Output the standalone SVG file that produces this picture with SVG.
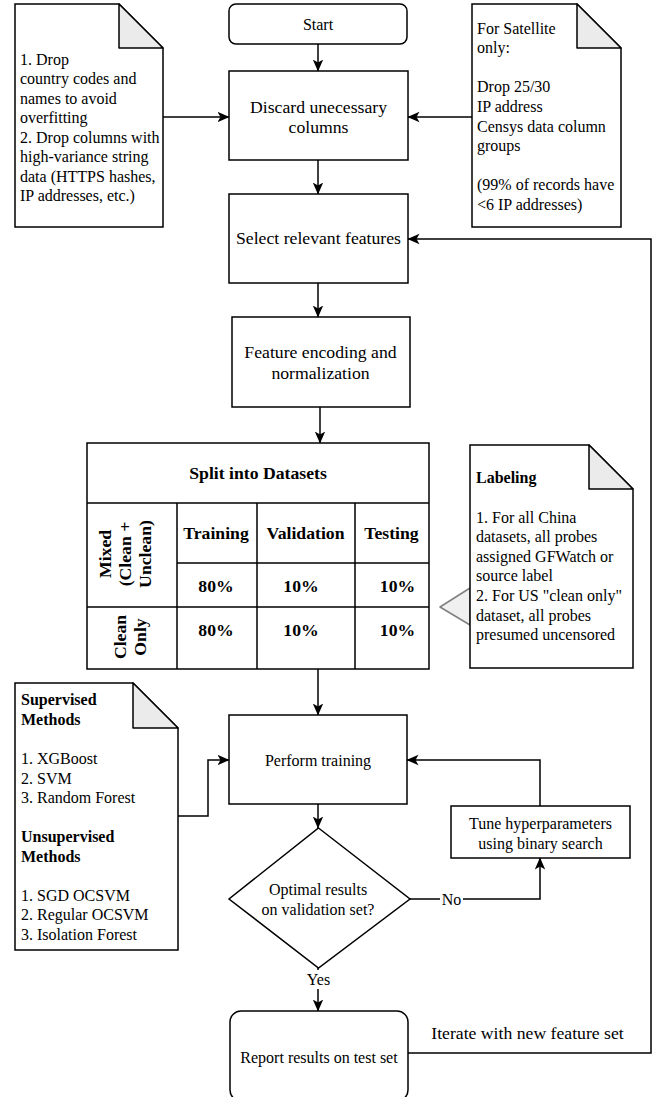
<svg xmlns="http://www.w3.org/2000/svg" width="652" height="1097" viewBox="0 0 652 1097">
<style>
text{font-family:"Liberation Serif","Times New Roman",serif;fill:#000}
.n{fill:#fff;stroke:#000;stroke-width:1.5}
.fold{fill:#ebebeb;stroke:#000;stroke-width:1.5;stroke-linejoin:round}
.t16{font-size:16px}
.t18{font-size:17.7px}
.c{text-anchor:middle}
.b{font-weight:bold}
.e{fill:none;stroke:#000;stroke-width:1.5}
.tl{fill:none;stroke:#000;stroke-width:1.5}
</style>
<defs>
<marker id="arr" viewBox="0 0 12 12" refX="11.5" refY="6" markerWidth="12" markerHeight="12" markerUnits="userSpaceOnUse" orient="auto">
<path d="M0,0.8 L12,6 L0,11.2 L3,6 Z" fill="#000"/>
</marker>
</defs>

<g id="connectors">
<path class="e" d="M318,44 V71" marker-end="url(#arr)"/>
<path class="e" d="M163,117 H229" marker-end="url(#arr)"/>
<path class="e" d="M472,117 H408" marker-end="url(#arr)"/>
<path class="e" d="M318,160 V194" marker-end="url(#arr)"/>
<path class="e" d="M318,283 V317" marker-end="url(#arr)"/>
<path class="e" d="M320,407 V443" marker-end="url(#arr)"/>
<path class="e" d="M318,669 V715" marker-end="url(#arr)"/>
<path class="e" d="M178,816 H208 V760 H229" marker-end="url(#arr)"/>
<path class="e" d="M318,804 V828" marker-end="url(#arr)"/>
<path class="e" d="M410,899 H540 V858" marker-end="url(#arr)"/>
<path class="e" d="M540,806 V760 H407" marker-end="url(#arr)"/>
<path class="e" d="M318,968 V1011" marker-end="url(#arr)"/>
<path class="e" d="M408,1053 H651 V239 H408" marker-end="url(#arr)"/>
<rect x="440" y="889" width="23" height="20" fill="#fff"/>
<text class="t16 c" x="451.5" y="904.5">No</text>
<rect x="305" y="970" width="27" height="19" fill="#fff"/>
<text class="t16 c" x="318.5" y="985">Yes</text>
<text class="t18 c" x="527.5" y="1039">Iterate with new feature set</text>
</g>

<g id="start">
<rect class="n" x="229" y="4" width="178" height="40" rx="7"/>
<text class="t16 c" x="318" y="29.5">Start</text>
</g>

<g id="note-drop">
<path class="n" d="M15,4 H119 L163,48 V227 H15 Z"/>
<path class="fold" d="M119,4 V48 H163 Z"/>
<text class="t16" x="20" y="64.5">1. Drop</text>
<text class="t16" x="20" y="84">country codes and</text>
<text class="t16" x="20" y="103.5">names to avoid</text>
<text class="t16" x="20" y="123">overfitting</text>
<text class="t16" x="20" y="142.5">2. Drop columns with</text>
<text class="t16" x="20" y="162">high-variance string</text>
<text class="t16" x="20" y="181.5">data (HTTPS hashes,</text>
<text class="t16" x="20" y="201">IP addresses, etc.)</text>
</g>

<g id="note-satellite">
<path class="n" d="M472,4 H577 L621,48 V227 H472 Z"/>
<path class="fold" d="M577,4 V48 H621 Z"/>
<text class="t16" x="477" y="33.6">For Satellite</text>
<text class="t16" x="477" y="53.2">only:</text>
<text class="t16" x="477" y="92.4">Drop 25/30</text>
<text class="t16" x="477" y="112">IP address</text>
<text class="t16" x="477" y="131.6">Censys data column</text>
<text class="t16" x="477" y="151.2">groups</text>
<text class="t16" x="477" y="190.4">(99% of records have</text>
<text class="t16" x="477" y="210">&lt;6 IP addresses)</text>
</g>

<g id="discard">
<rect class="n" x="229" y="71" width="179" height="89"/>
<text class="t18 c" x="318.5" y="112.5">Discard unecessary</text>
<text class="t18 c" x="318.5" y="133">columns</text>
</g>

<g id="select">
<rect class="n" x="229" y="194" width="179" height="89"/>
<text class="t18 c" x="318.5" y="244">Select relevant features</text>
</g>

<g id="encoding">
<rect class="n" x="232" y="317" width="178" height="90"/>
<text class="t18 c" x="320.5" y="358">Feature encoding and</text>
<text class="t18 c" x="320.5" y="379">normalization</text>
</g>

<g id="split-table">
<rect class="n" x="87" y="443" width="342" height="226"/>
<path class="tl" d="M87,503 H429 M177,503 V669 M257,503 V669 M355,503 V669 M177,563 H429 M87,607 H429"/>
<text class="t18 c b" x="258" y="479">Split into Datasets</text>
<text class="t18 c b" x="216" y="539">Training</text>
<text class="t18 c b" x="305.5" y="539">Validation</text>
<text class="t18 c b" x="391.5" y="539">Testing</text>
<text class="t18 c b" x="216" y="592">80%</text>
<text class="t18 c b" x="301" y="592">10%</text>
<text class="t18 c b" x="397.5" y="592">10%</text>
<text class="t18 c b" x="216" y="636">80%</text>
<text class="t18 c b" x="301" y="636">10%</text>
<text class="t18 c b" x="397.5" y="636">10%</text>
<text class="t18 c b" transform="translate(111,554) rotate(-90)">Mixed</text>
<text class="t18 c b" transform="translate(131,554) rotate(-90)">(Clean +</text>
<text class="t18 c b" transform="translate(151,554) rotate(-90)">Unclean)</text>
<text class="t18 c b" transform="translate(126,637) rotate(-90)">Clean</text>
<text class="t18 c b" transform="translate(146,637) rotate(-90)">Only</text>
</g>

<g id="note-labeling">
<path d="M470,588 L440,607 L470,625 Z" fill="#f0f0f0" stroke="#808080" stroke-width="1.5" stroke-linejoin="round"/>
<path class="n" d="M470,445 H589 L633,489 V668 H470 Z"/>
<path class="fold" d="M589,445 V489 H633 Z"/>
<text class="t16 b" x="476" y="483.3">Labeling</text>
<text class="t16" x="476" y="522.5">1. For all China</text>
<text class="t16" x="476" y="542.1">datasets, all probes</text>
<text class="t16" x="476" y="561.7">assigned GFWatch or</text>
<text class="t16" x="476" y="581.3">source label</text>
<text class="t16" x="476" y="600.9">2. For US "clean only"</text>
<text class="t16" x="476" y="620.5">dataset, all probes</text>
<text class="t16" x="476" y="640.1">presumed uncensored</text>
</g>

<g id="note-methods">
<path class="n" d="M15,683 H133 L178,728 V950 H15 Z"/>
<path class="fold" d="M133,683 V728 H178 Z"/>
<text class="t16 b" x="21" y="705.3">Supervised</text>
<text class="t16 b" x="21" y="724.9">Methods</text>
<text class="t16" x="21" y="764">1. XGBoost</text>
<text class="t16" x="21" y="783.5">2. SVM</text>
<text class="t16" x="21" y="803.1">3. Random Forest</text>
<text class="t16 b" x="21" y="842.2">Unsupervised</text>
<text class="t16 b" x="21" y="861.7">Methods</text>
<text class="t16" x="21" y="900.8">1. SGD OCSVM</text>
<text class="t16" x="21" y="920.4">2. Regular OCSVM</text>
<text class="t16" x="21" y="939.9">3. Isolation Forest</text>
</g>

<g id="perform">
<rect class="n" x="229" y="715" width="178" height="89"/>
<text class="t16 c" x="318" y="765.5">Perform training</text>
</g>

<g id="tune">
<rect class="n" x="451" y="806" width="179" height="52"/>
<text class="t16 c" x="540.5" y="828.5">Tune hyperparameters</text>
<text class="t16 c" x="540.5" y="848.5">using binary search</text>
</g>

<g id="decision">
<path class="n" d="M318.5,828 L410,899 L318.5,968 L229,899 Z" stroke-linejoin="miter"/>
<text class="t16 c" x="318" y="894.5">Optimal results</text>
<text class="t16 c" x="318" y="915">on validation set?</text>
</g>

<g id="report">
<rect class="n" x="230" y="1011" width="178" height="90" rx="11"/>
<text class="t16 c" x="319" y="1062.5">Report results on test set</text>
</g>
</svg>
